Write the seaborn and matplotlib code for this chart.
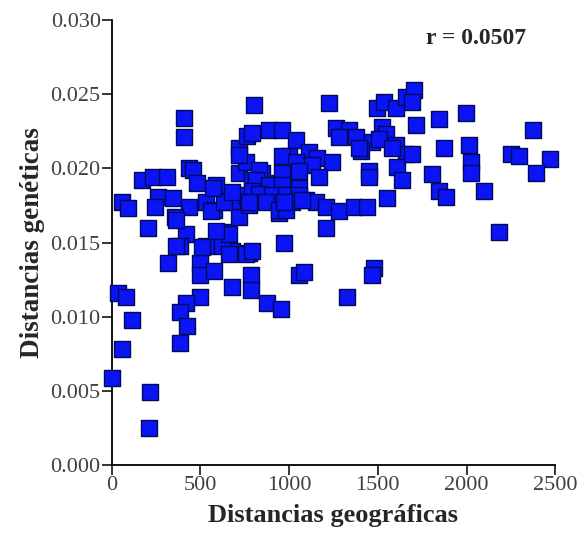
import numpy as np
import pandas as pd
import seaborn as sns
import matplotlib.pyplot as plt

# distancias geograficas (km) y geneticas
geo = [0, 34, 79, 112, 56, 213, 208,
       56, 90, 168, 230, 309, 410, 410, 438, 460,
       478, 258, 343, 242, 438, 354, 202, 421, 382, 534, 590, 534, 579, 680,
       646, 720, 759, 720, 720, 764, 804, 759, 792, 680, 776, 315, 495,
       495, 579, 680, 787, 787, 877, 955, 495, 421, 382, 427, 382, 1057,
       562, 635, 776, 720, 815, 888, 944, 972, 365, 511, 624, 663, 590, 365,
       759, 663, 1000, 1000, 961, 849, 568, 680,
       1225, 1495, 1534, 1602, 1658, 792, 888, 961, 1040, 1264, 1337, 1281,
       1377, 1467, 1523, 1545, 1602, 1658, 1405, 961, 1113, 1158, 1242, 1040,
       1130, 832, 961, 1057, 1169, 1450, 1450, 1607, 1635, 815, 888, 961,
       1057, 792, 832, 905, 984, 1057, 776, 871, 944, 1017, 1096, 1152, 1208,
       1281, 1366, 1439, 1551, 1208, 792, 1085, 1478,
       1703, 1692, 1714, 1843, 1995, 2377, 1692, 1871, 2012, 2248, 2293, 2473,
       2023, 2023, 1804, 1843, 1883, 2096, 2394, 2181,
       1467, 1326, 1393, 1506, 1579, 1074, 984, 972]
gen = [0.0059, 0.0116, 0.0113, 0.0098, 0.0078, 0.0049, 0.0025,
       0.0177, 0.0173, 0.0192, 0.0194, 0.0194, 0.0234, 0.0221, 0.0200, 0.0199,
       0.0190, 0.0181, 0.0180, 0.0174, 0.0174, 0.0167, 0.0160, 0.0156, 0.0148, 0.0148, 0.0189, 0.0177, 0.0172, 0.0177,
       0.0157, 0.0167, 0.0182, 0.0197, 0.0214, 0.0222, 0.0243, 0.0204, 0.0192, 0.0144, 0.0143, 0.0136, 0.0136,
       0.0128, 0.0131, 0.0120, 0.0128, 0.0118, 0.0109, 0.0105, 0.0113, 0.0109, 0.0103, 0.0094, 0.0082, 0.0128,
       0.0171, 0.0177, 0.0175, 0.0209, 0.0190, 0.0190, 0.0170, 0.0150, 0.0165, 0.0147, 0.0148, 0.0156, 0.0158, 0.0148,
       0.0142, 0.0142, 0.0208, 0.0196, 0.0183, 0.0197, 0.0187, 0.0184,
       0.0244, 0.0241, 0.0245, 0.0241, 0.0248, 0.0224, 0.0226, 0.0226, 0.0219, 0.0227, 0.0226, 0.0221,
       0.0221, 0.0218, 0.0228, 0.0223, 0.0216, 0.0210, 0.0212, 0.0208, 0.0211, 0.0207, 0.0204, 0.0204,
       0.0202, 0.0199, 0.0197, 0.0198, 0.0194, 0.0198, 0.0194, 0.0201, 0.0192, 0.0192, 0.0189, 0.0189,
       0.0187, 0.0185, 0.0183, 0.0182, 0.0182, 0.0182, 0.0177, 0.0177, 0.0172, 0.0177, 0.0179, 0.0177, 0.0174,
       0.0171, 0.0174, 0.0174, 0.0180, 0.0160, 0.0144, 0.0130, 0.0133,
       0.0253, 0.0245, 0.0229, 0.0233, 0.0237, 0.0226, 0.0210, 0.0214, 0.0216, 0.0210, 0.0208, 0.0206,
       0.0204, 0.0197, 0.0196, 0.0185, 0.0181, 0.0185, 0.0197, 0.0157,
       0.0128, 0.0113, 0.0214, 0.0220, 0.0214, 0.0179, 0.0172, 0.0177]

xticks = [0, 500, 1000, 1500, 2000, 2500]
yticks = [0.000, 0.005, 0.010, 0.015, 0.020, 0.025, 0.030]
r_text = 'r = 0.0507'

df = pd.DataFrame({'geo': geo, 'gen': gen})

sns.set_style('ticks')
plt.rcParams['font.family'] = ['Liberation Serif', 'DejaVu Serif']

fig = plt.figure(figsize=(5.82, 5.39), dpi=100)
ax = fig.add_axes([0.192, 0.137, 0.762, 0.826])

sns.scatterplot(data=df, x='geo', y='gen', marker='s', s=125,
                color='#0a14f5', edgecolor='#000a55', linewidth=1.0,
                clip_on=False, zorder=3, ax=ax)

ax.set_xlim(0, 2500)
ax.set_ylim(0, 0.030)
ax.set_xticks(xticks)
ax.set_yticks(yticks)
ax.set_xticklabels([str(t) for t in xticks])
ax.set_yticklabels([f'{t:.3f}' for t in yticks])
ax.tick_params(labelsize=16, labelcolor='#404040', length=7, width=1.3,
               direction='out', pad=1)
for s in ['top', 'right']:
    ax.spines[s].set_visible(False)
for s in ['left', 'bottom']:
    ax.spines[s].set_linewidth(1.3)
    ax.spines[s].set_color('black')

ax.set_xlabel('Distancias geográficas', fontsize=19, fontweight='bold', labelpad=6)
ax.set_ylabel('Distancias genéticas', fontsize=19.5, fontweight='bold', labelpad=4)
ax.text(0.935, 0.958, r_text, transform=ax.transAxes, fontsize=17,
        fontweight='bold', ha='right', va='center')

plt.savefig('out.png', dpi=100)
